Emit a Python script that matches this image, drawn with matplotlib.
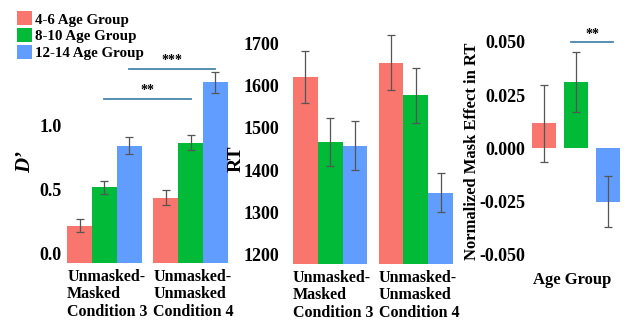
import numpy as np
import matplotlib.pyplot as plt
from matplotlib.patches import Patch

plt.rcParams['font.family'] = 'Liberation Serif'
plt.rcParams['font.weight'] = 'bold'
plt.rcParams['axes.labelweight'] = 'bold'

# data
groups = ['4-6 Age Group', '8-10 Age Group', '12-14 Age Group']
colors = ['#F8766D', '#00BA38', '#619CFF']
conditions = ['Unmasked-\nMasked\nCondition 3', 'Unmasked-\nUnmasked\nCondition 4']

dprime = [[0.215, 0.434], [0.514, 0.862], [0.839, 1.333]]
dprime_err = [[0.05, 0.057], [0.05, 0.057], [0.065, 0.082]]

rt = [[1620, 1654], [1467, 1578], [1458, 1347]]
rt_err = [[62, 65], [56, 65], [58, 46]]

mask_effect = [0.0117, 0.0312, -0.025]
mask_err = [0.018, 0.0142, 0.012]

W, H = 625, 320
fig = plt.figure(figsize=(W / 100, H / 100), dpi=100)

ecol = '#555555'
sigcol = '#4a86a8'
w = 0.289
x = np.arange(len(conditions))
offsets = [-w, 0, w]

# ---- panel 1: D'
ax1 = fig.add_axes([67 / W, 1 - 263 / H, 161 / W, 203 / H])
d_base = -0.076
for i in range(3):
    vals = np.array(dprime[i])
    ax1.bar(x + offsets[i], vals - d_base, w, bottom=d_base, color=colors[i],
            edgecolor='none')
    ax1.errorbar(x + offsets[i], vals, yerr=dprime_err[i], fmt='none',
                 ecolor=ecol, elinewidth=0.9, capsize=3, capthick=0.9)
ax1.set_ylim(d_base, 1.507)
ax1.set_xlim(-1.5 * w - 0.002, 1 + 1.5 * w + 0.002)
ax1.set_yticks([0.0, 0.5, 1.0])
ax1.set_yticklabels(['0.0', '0.5', '1.0'])
ax1.set_ylabel('D’', fontsize=15, style='italic')
ax1.yaxis.set_label_coords(-0.2, 0.5)
# significance bars
ax1.plot([x[0] + offsets[1], x[1] + offsets[1]], [1.20, 1.20], color=sigcol, lw=1.3)
ax1.text((x[0] + x[1]) / 2 + offsets[1], 1.215, '**', ha='center', va='bottom', fontsize=10)
ax1.plot([x[0] + offsets[2], x[1] + offsets[2]], [1.435, 1.435], color=sigcol, lw=1.3)
ax1.text((x[0] + x[1]) / 2 + offsets[2], 1.45, '***', ha='center', va='bottom', fontsize=10)

# ---- panel 2: RT
ax2 = fig.add_axes([293 / W, 1 - 264 / H, 160 / W, 234 / H])
for i in range(3):
    ax2.bar(x + offsets[i], rt[i], w, color=colors[i], edgecolor='none')
    ax2.errorbar(x + offsets[i], rt[i], yerr=rt_err[i], fmt='none',
                 ecolor=ecol, elinewidth=0.9, capsize=3, capthick=0.9)
ax2.set_ylim(1178, 1732)
ax2.set_xlim(-1.5 * w, 1 + 1.5 * w)
ax2.set_yticks([1200, 1300, 1400, 1500, 1600, 1700])
ax2.set_ylabel('RT', fontsize=14)
ax2.yaxis.set_label_coords(-0.3, 0.45)

for ax, pad in [(ax1, 4), (ax2, 10)]:
    ax.set_xticks(x - 1.5 * w)
    ax.set_xticklabels(conditions, ha='left', fontsize=11.5, linespacing=1.15)
    ax.tick_params(axis='x', length=0, pad=4)
    ax.tick_params(axis='y', length=0, pad=pad, labelsize=13)

# ---- panel 3: normalized mask effect
ax3 = fig.add_axes([528 / W, 1 - 264 / H, 97 / W, 234 / H])
xa = np.arange(3)
ax3.bar(xa, mask_effect, 0.74, color=colors, edgecolor='none')
ax3.errorbar(xa, mask_effect, yerr=mask_err, fmt='none', ecolor=ecol,
             elinewidth=0.9, capsize=3, capthick=0.9)
ax3.set_ylim(-0.0543, 0.0555)
ax3.set_xlim(-0.486, 2.52)
ax3.set_yticks([-0.05, -0.025, 0.0, 0.025, 0.05])
ax3.set_yticklabels(['-0.050', '-0.025', '0.000', '0.025', '0.050'])
ax3.set_xticks([])
ax3.set_xlabel('Age Group', fontsize=12)
ax3.xaxis.set_label_coords(0.46, -0.035)
ax3.set_ylabel('Normalized Mask Effect in RT', fontsize=12)
ax3.yaxis.set_label_coords(-0.5, 0.483)
ax3.tick_params(axis='y', length=0, pad=2, labelsize=13)
ax3.plot([xa[1] - 0.15, xa[2] + 0.15], [0.05, 0.05], color=sigcol, lw=1.3)
ax3.text((xa[1] + xa[2]) / 2, 0.0505, '**', ha='center', va='bottom', fontsize=10)

for ax in (ax1, ax2, ax3):
    for s in ax.spines.values():
        s.set_visible(False)

handles = [Patch(facecolor=c, edgecolor='none', label=g) for c, g in zip(colors, groups)]
fig.legend(handles=handles, loc='upper left', bbox_to_anchor=(6 / W, 1 - 1 / H),
           frameon=False, fontsize=10.8, handlelength=1.0, handleheight=1.05,
           handletextpad=0.25, labelspacing=0.12, borderpad=0.2)

fig.savefig('out.png', dpi=100)
